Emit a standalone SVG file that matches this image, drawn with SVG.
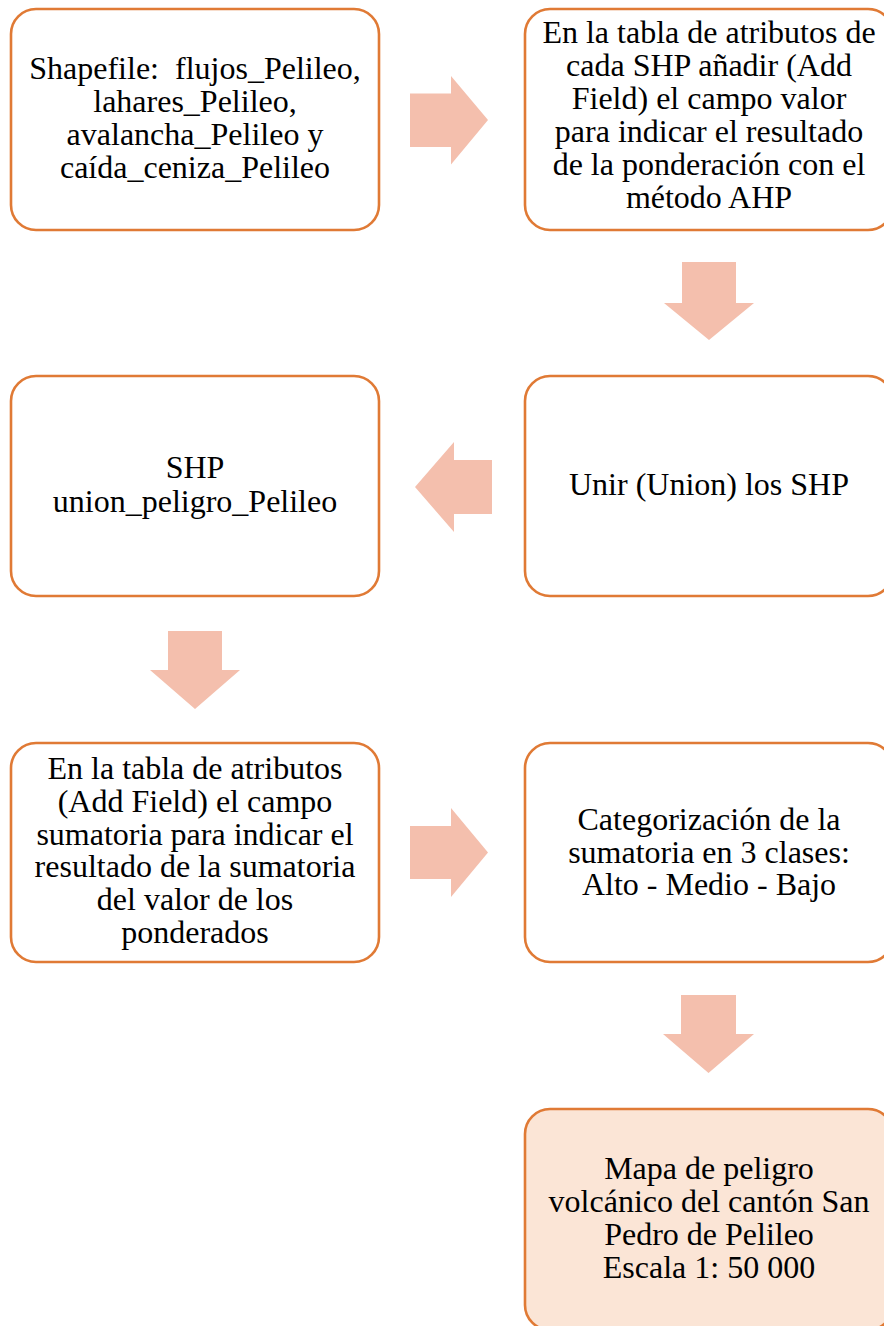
<svg xmlns="http://www.w3.org/2000/svg" width="884" height="1326" viewBox="0 0 884 1326">
<style>
.box{fill:#FFFFFF;stroke:#E07A35;stroke-width:2.6}
.fin{fill:#FBE5D6;stroke:#E07A35;stroke-width:2.6}
.arr{fill:#F4BFAD}
text{font-family:"Liberation Serif","Times New Roman",serif;font-size:32px;fill:#000;text-anchor:middle}
</style>
<rect width="884" height="1326" fill="#FFFFFF"/>
<g id="connectors">
<polygon class="arr" points="410,93.5 451,93.5 451,76 488,120 451,164.5 451,147 410,147"/>
<polygon class="arr" points="682,262 736,262 736,303 754,303 709,340 664,303 682,303"/>
<polygon class="arr" points="492,460 454,460 454,442 415,487 454,532 454,514 492,514"/>
<polygon class="arr" points="168,631 222,631 222,670 240,670 195,709 150,670 168,670"/>
<polygon class="arr" points="410,826 451,826 451,808 488,852.5 451,897 451,879 410,879"/>
<polygon class="arr" points="681,995 736,995 736,1034 754,1034 708.5,1073 663,1034 681,1034"/>
</g>
<g id="n1">
<rect class="box" x="11" y="9" width="368" height="221" rx="25"/>
<text x="195" y="79" xml:space="preserve">Shapefile:  flujos_Pelileo,</text>
<text x="195" y="112">lahares_Pelileo,</text>
<text x="195" y="145">avalancha_Pelileo y</text>
<text x="195" y="178">caída_ceniza_Pelileo</text>
</g>
<g id="n2">
<rect class="box" x="525" y="9" width="368" height="221" rx="25"/>
<text x="709" y="43">En la tabla de atributos de</text>
<text x="709" y="76">cada SHP añadir (Add</text>
<text x="709" y="109">Field) el campo valor</text>
<text x="709" y="142">para indicar el resultado</text>
<text x="709" y="175">de la ponderación con el</text>
<text x="709" y="208">método AHP</text>
</g>
<g id="n3">
<rect class="box" x="525" y="376" width="368" height="220" rx="25"/>
<text x="709" y="495">Unir (Union) los SHP</text>
</g>
<g id="n4">
<rect class="box" x="11" y="376" width="368" height="220" rx="25"/>
<text x="195" y="478">SHP</text>
<text x="195" y="511.5">union_peligro_Pelileo</text>
</g>
<g id="n5">
<rect class="box" x="11" y="743" width="368" height="219" rx="25"/>
<text x="195" y="779">En la tabla de atributos</text>
<text x="195" y="812">(Add Field) el campo</text>
<text x="195" y="844.5">sumatoria para indicar el</text>
<text x="195" y="877">resultado de la sumatoria</text>
<text x="195" y="910">del valor de los</text>
<text x="195" y="943">ponderados</text>
</g>
<g id="n6">
<rect class="box" x="525" y="743" width="368" height="219" rx="25"/>
<text x="709" y="830">Categorización de la</text>
<text x="709" y="862.5">sumatoria en 3 clases:</text>
<text x="709" y="895">Alto - Medio - Bajo</text>
</g>
<g id="n7">
<rect class="fin" x="525" y="1109" width="368" height="221" rx="25"/>
<text x="709" y="1179">Mapa de peligro</text>
<text x="709" y="1212">volcánico del cantón San</text>
<text x="709" y="1244.5">Pedro de Pelileo</text>
<text x="709" y="1277.5">Escala 1: 50 000</text>
</g>
</svg>
